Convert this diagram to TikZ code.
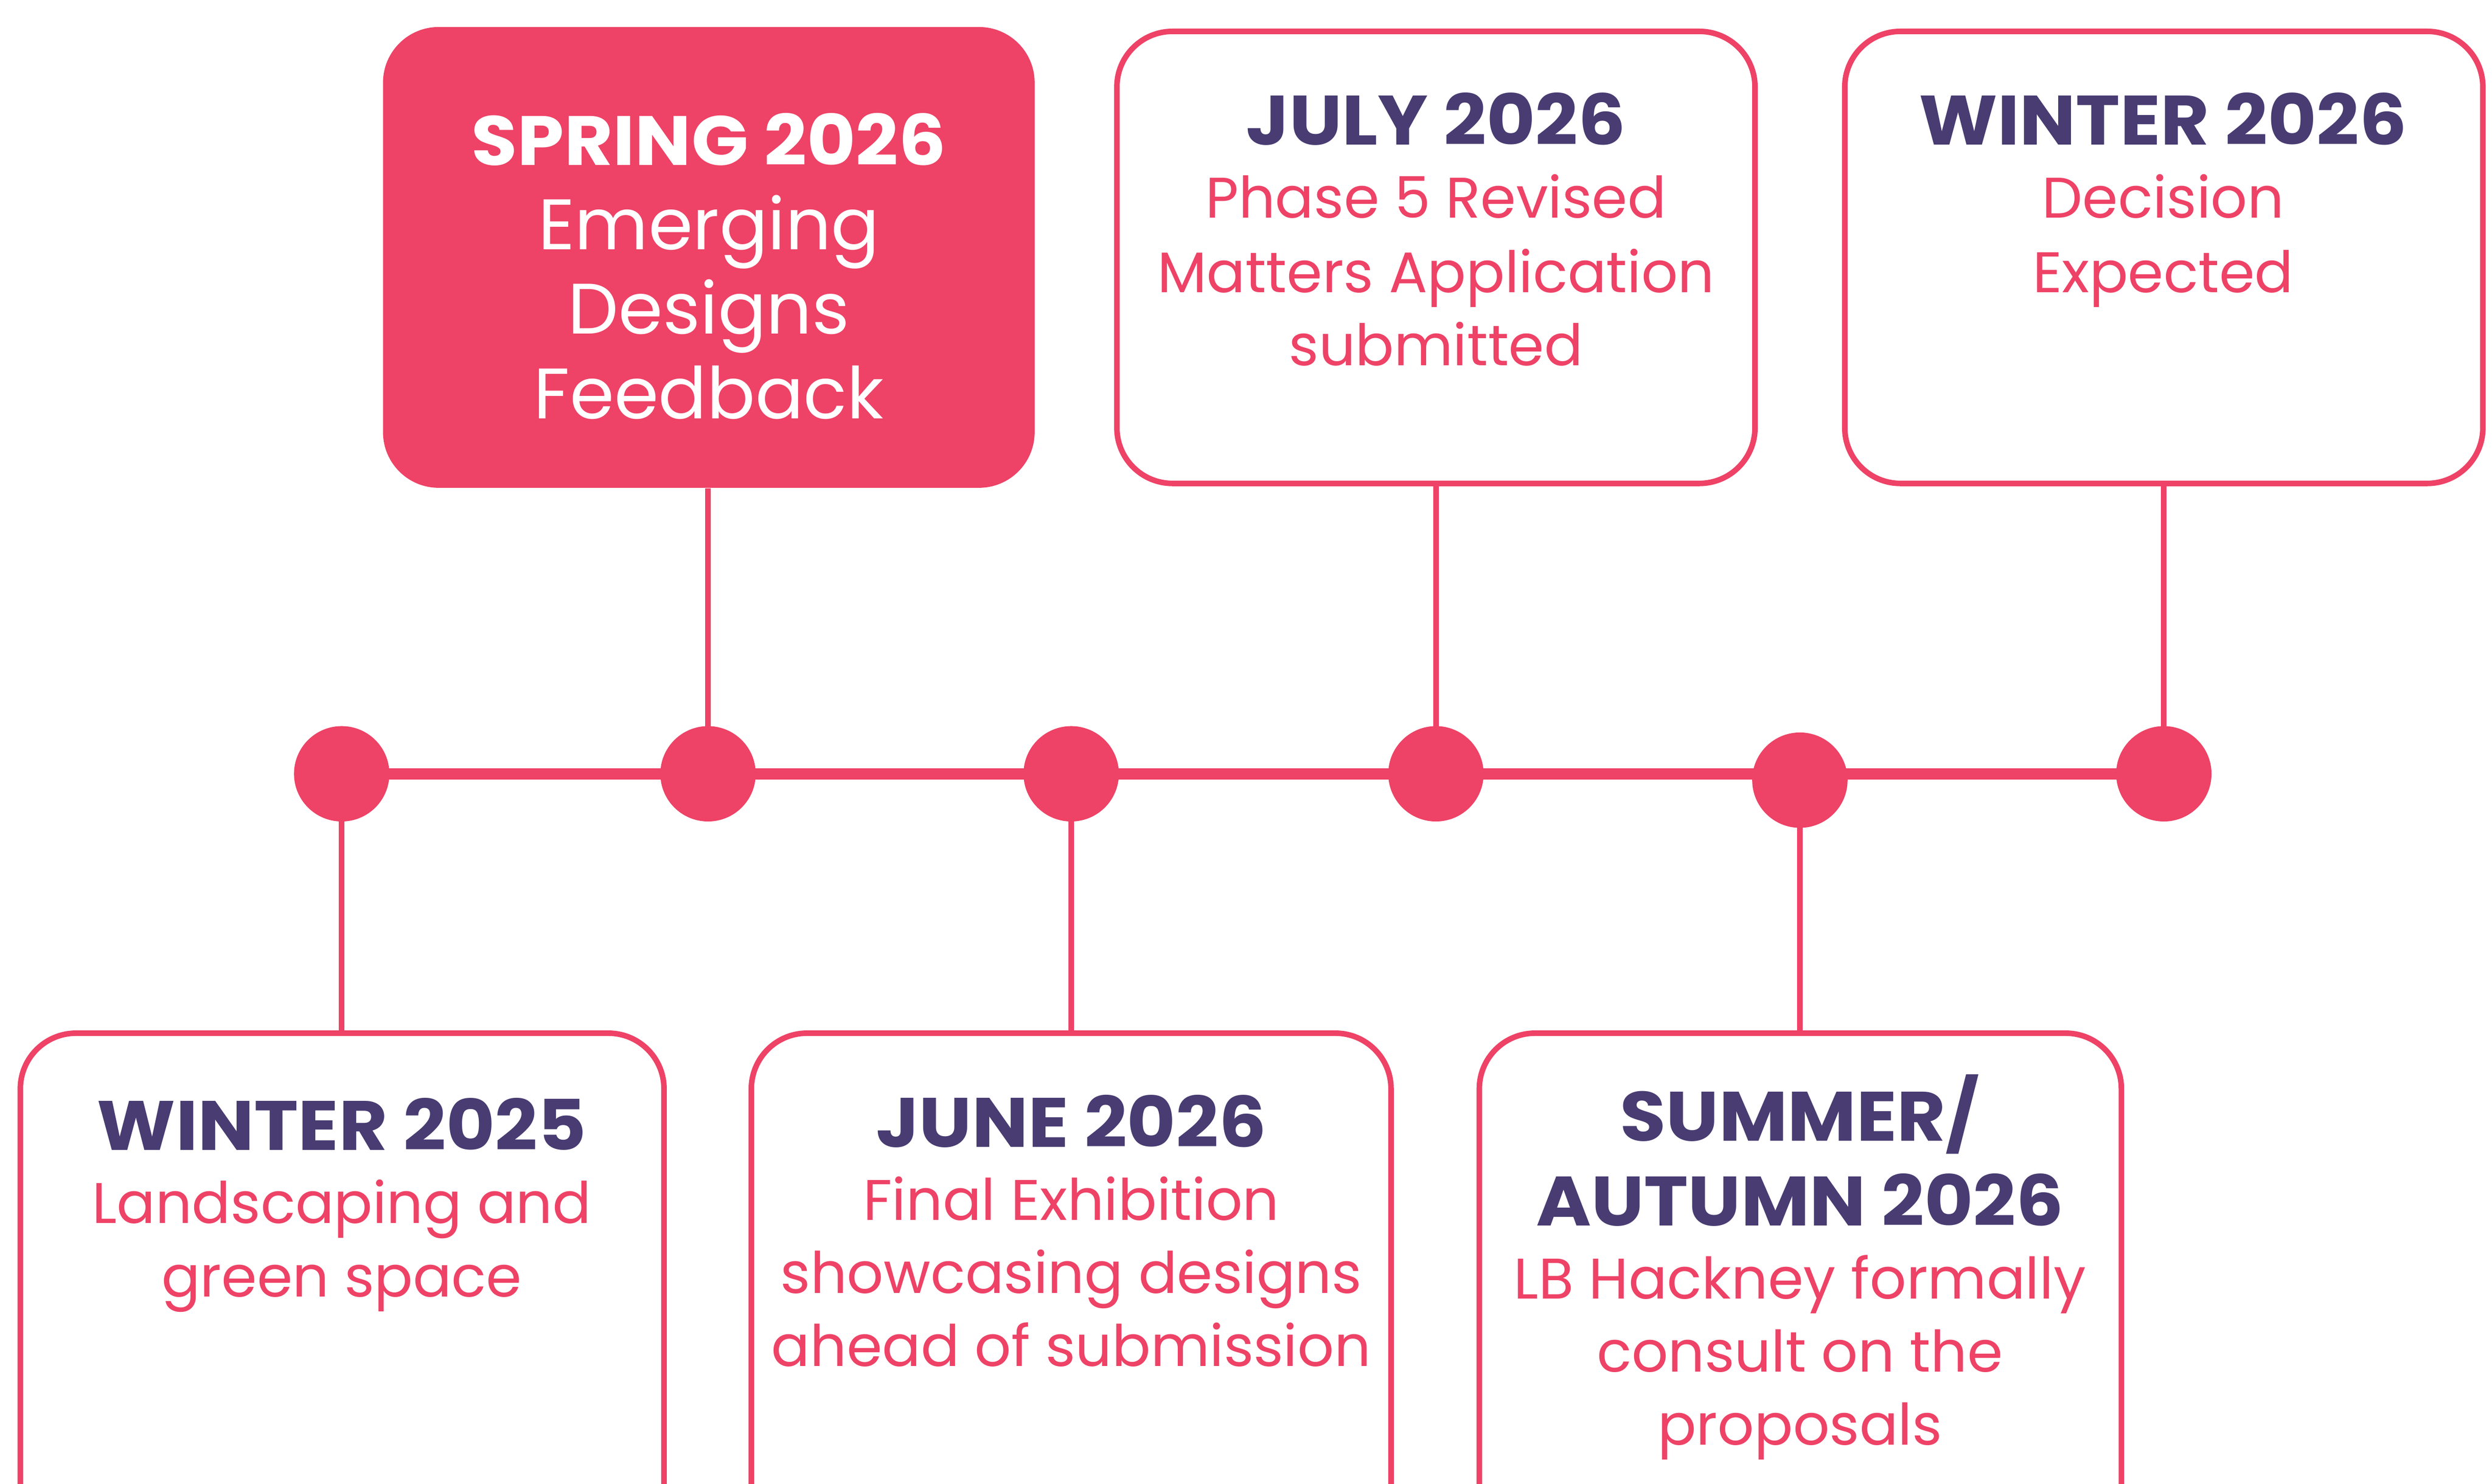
\documentclass[tikz,border=0pt]{standalone}
\usepackage{fontspec}
\setmainfont{Poppins}
\newfontfamily\ttlfont{Poppins}[FakeStretch=1.07]
\definecolor{pk}{HTML}{EE4266}
\definecolor{pu}{HTML}{483C72}
\begin{document}
\begin{tikzpicture}[x=1pt,y=-1pt,
  ttl/.style={font=\fontsize{44}{44}\ttlfont\bfseries, text=pu, anchor=base, inner sep=0pt},
  bdy/.style={font=\fontsize{36}{36}\selectfont, text=pk, anchor=base, inner sep=0pt},
  sttl/.style={ttl, text=white},
  sbdy/.style={font=\fontsize{45}{45}\selectfont, text=white, anchor=base, inner sep=0pt},
  obox/.style={draw=pk, line width=3.5pt, rounded corners=35pt, fill=white, rectangle, inner sep=0pt},
  fbox/.style={fill=pk, draw=none, rounded corners=35pt, rectangle, inner sep=0pt},
  dot/.style={circle, fill=pk, draw=none, minimum size=60pt, inner sep=0pt},
  conn/.style={draw=pk, line width=3.5pt},
  tline/.style={draw=pk, line width=7pt}]
\useasboundingbox (0,0) rectangle (1568,933.7);
\clip (0,0) rectangle (1568,933.7);
% boxes
\node[fbox, minimum width=410pt, minimum height=290pt] (spring) at (446,162) {};
\node[obox, minimum width=401.5pt, minimum height=284.5pt] (july) at (903.5,162) {};
\node[obox, minimum width=401.5pt, minimum height=284.5pt] (win26) at (1361.5,162) {};
\node[obox, minimum width=405pt, minimum height=400pt] (win25) at (215.3,850.25) {};
\node[obox, minimum width=402.5pt, minimum height=400pt] (june) at (674,850.25) {};
\node[obox, minimum width=404pt, minimum height=400pt] (summer) at (1132.8,850.25) {};
% dots
\node[dot] (d1) at (215,487) {};
\node[dot] (d2) at (445.5,487) {};
\node[dot] (d3) at (674,487) {};
\node[dot] (d4) at (903.5,487) {};
\node[dot] (d5) at (1132.5,491) {};
\node[dot] (d6) at (1361.5,487) {};
% timeline
\draw[tline] (d1.center) -- (d6.center);
% connectors
\draw[conn] (d2 |- spring.south) -- (d2.center);
\draw[conn] (d4 |- july.south) -- (d4.center);
\draw[conn] (d6 |- win26.south) -- (d6.center);
\draw[conn] (d1.center) -- (d1 |- win25.north);
\draw[conn] (d3.center) -- (d3 |- june.north);
\draw[conn] (d5.center) -- (d5 |- summer.north);
% texts
\node[sttl] (s0) at (446,104) {SPRING 2026};
\node[sbdy] (s1) at (446,157) {Emerging};
\node[sbdy] (s2) at (446,210) {Designs};
\node[sbdy] (s3) at (446,263.5) {Feedback};
\node[ttl] (j0) at (903.5,91) {JULY 2026};
\node[bdy] (j1) at (903.5,137) {Phase 5 Revised};
\node[bdy] (j2) at (903.5,184) {Matters Application};
\node[bdy] (j3) at (903.5,230) {submitted};
\node[ttl] (w0) at (1361,91) {WINTER 2026};
\node[bdy] (w1) at (1361,137) {Decision};
\node[bdy] (w2) at (1361,184) {Expected};
\node[ttl] (v0) at (215,724) {WINTER 2025};
\node[bdy] (v1) at (215,770) {Landscaping and};
\node[bdy] (v2) at (215,816) {green space};
\node[ttl] (n0) at (674,722) {JUNE 2026};
\node[bdy] (n1) at (674,768) {Final Exhibition};
\node[bdy] (n2) at (674,814) {showcasing designs};
\node[bdy] (n3) at (674,860) {ahead of submission};
\node[ttl] (m0) at (1132.5,718) {SUMMER/};
\node[ttl] (m1) at (1132.5,771.5) {AUTUMN 2026};
\node[bdy] (m2) at (1132.5,817.5) {LB Hackney formally};
\node[bdy] (m3) at (1132.5,863.5) {consult on the};
\node[bdy] (m4) at (1132.5,909.5) {proposals};
\end{tikzpicture}
\end{document}
